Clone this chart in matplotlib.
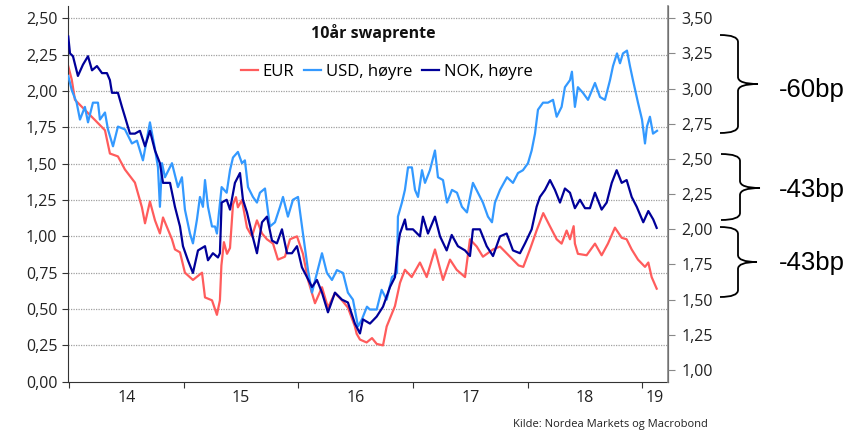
import matplotlib
matplotlib.use("Agg")
import matplotlib.pyplot as plt
from matplotlib.path import Path
from matplotlib.patches import PathPatch
from matplotlib.ticker import FuncFormatter, FixedLocator, NullFormatter

plt.rcParams['font.family'] = ['Open Sans', 'DejaVu Sans']

# 10y swap rates, time as years after start of 2014
eur_t = [-0.006, 0.024, 0.052, 0.139, 0.227, 0.314, 0.357, 0.427, 0.488, 0.575,
         0.636, 0.663, 0.706, 0.750, 0.793, 0.820, 0.898, 0.924, 0.968, 1.011,
         1.081, 1.160, 1.186, 1.247, 1.290, 1.316, 1.329, 1.351, 1.378, 1.404,
         1.430, 1.456, 1.473, 1.508, 1.552, 1.595, 1.639, 1.683, 1.726, 1.779,
         1.822, 1.883, 1.927, 1.988, 2.040, 2.084, 2.145, 2.206, 2.258, 2.319,
         2.380, 2.432, 2.493, 2.508, 2.537, 2.595, 2.642, 2.683, 2.738, 2.770,
         2.842, 2.886, 2.929, 2.988, 3.060, 3.119, 3.191, 3.261, 3.322, 3.380,
         3.453, 3.496, 3.555, 3.609, 3.697, 3.758, 3.845, 3.920, 3.961, 4.019,
         4.077, 4.135, 4.193, 4.252, 4.295, 4.339, 4.368, 4.400, 4.411, 4.437,
         4.513, 4.586, 4.644, 4.699, 4.760, 4.819, 4.862, 4.906, 4.961, 5.022,
         5.051, 5.080, 5.124]
eur = [2.17, 2.08, 1.94, 1.87, 1.80, 1.73, 1.57, 1.55, 1.46, 1.37,
       1.20, 1.09, 1.24, 1.11, 1.02, 1.13, 0.98, 0.91, 0.89, 0.75,
       0.70, 0.75, 0.58, 0.56, 0.46, 0.56, 0.80, 0.96, 0.88, 0.92,
       1.22, 1.27, 1.20, 1.25, 1.06, 1.00, 1.11, 1.02, 0.98, 0.95,
       0.84, 0.86, 0.98, 1.00, 0.88, 0.70, 0.54, 0.65, 0.51, 0.61,
       0.56, 0.51, 0.38, 0.33, 0.29, 0.27, 0.30, 0.26, 0.25, 0.38,
       0.52, 0.68, 0.77, 0.72, 0.82, 0.72, 0.91, 0.70, 0.84, 0.77,
       0.72, 0.98, 0.93, 0.86, 0.91, 0.93, 0.86, 0.80, 0.79, 0.91,
       1.04, 1.16, 1.07, 0.98, 0.95, 1.04, 0.98, 1.07, 0.95, 0.88,
       0.87, 0.95, 0.87, 0.95, 1.06, 0.99, 0.98, 0.91, 0.84, 0.79,
       0.82, 0.72, 0.64]

usd_t = [-0.006, 0.024, 0.067, 0.096, 0.139, 0.166, 0.209, 0.253, 0.270, 0.314,
         0.340, 0.384, 0.427, 0.488, 0.549, 0.593, 0.645, 0.706, 0.750, 0.776,
         0.793, 0.811, 0.837, 0.898, 0.950, 0.985, 1.011, 1.055, 1.081, 1.116,
         1.142, 1.168, 1.186, 1.212, 1.247, 1.273, 1.290, 1.308, 1.331, 1.375,
         1.404, 1.430, 1.473, 1.508, 1.534, 1.561, 1.604, 1.639, 1.665, 1.709,
         1.752, 1.796, 1.840, 1.866, 1.909, 1.953, 1.997, 2.040, 2.084, 2.119,
         2.162, 2.206, 2.249, 2.293, 2.336, 2.389, 2.432, 2.476, 2.520, 2.554,
         2.598, 2.624, 2.683, 2.726, 2.770, 2.816, 2.860, 2.868, 2.903, 2.929,
         2.956, 2.990, 3.017, 3.043, 3.078, 3.104, 3.147, 3.191, 3.217, 3.261,
         3.296, 3.339, 3.383, 3.426, 3.470, 3.522, 3.566, 3.609, 3.653, 3.688,
         3.714, 3.758, 3.819, 3.871, 3.915, 3.958, 4.002, 4.034, 4.063, 4.089,
         4.133, 4.176, 4.220, 4.252, 4.295, 4.324, 4.368, 4.385, 4.411, 4.437,
         4.481, 4.525, 4.586, 4.630, 4.673, 4.717, 4.743, 4.778, 4.804, 4.830,
         4.865, 4.891, 4.917, 4.961, 4.996, 5.022, 5.039, 5.065, 5.092, 5.127]
usd = [3.09, 2.99, 2.90, 2.78, 2.87, 2.76, 2.90, 2.90, 2.78, 2.83,
       2.71, 2.59, 2.73, 2.71, 2.61, 2.63, 2.49, 2.76, 2.57, 2.44,
       2.16, 2.47, 2.37, 2.47, 2.30, 2.37, 2.14, 1.97, 1.90, 2.07,
       2.23, 2.16, 2.35, 2.16, 2.02, 2.02, 1.97, 2.12, 2.30, 2.26,
       2.42, 2.51, 2.55, 2.47, 2.49, 2.30, 2.23, 2.19, 2.26, 2.29,
       2.02, 2.05, 2.16, 2.23, 2.09, 2.21, 2.23, 1.97, 1.71, 1.55,
       1.69, 1.83, 1.69, 1.64, 1.71, 1.69, 1.55, 1.50, 1.31, 1.36,
       1.45, 1.43, 1.43, 1.57, 1.50, 1.66, 1.69, 2.09, 2.19, 2.28,
       2.44, 2.44, 2.28, 2.23, 2.42, 2.33, 2.42, 2.56, 2.37, 2.35,
       2.19, 2.28, 2.26, 2.16, 2.12, 2.33, 2.26, 2.19, 2.09, 2.05,
       2.19, 2.28, 2.37, 2.33, 2.40, 2.42, 2.47, 2.56, 2.68, 2.85,
       2.90, 2.90, 2.92, 2.80, 2.87, 3.01, 3.06, 3.12, 2.87, 3.01,
       2.97, 2.92, 3.04, 2.94, 2.92, 3.06, 3.16, 3.25, 3.18, 3.25,
       3.27, 3.16, 3.06, 2.90, 2.78, 2.61, 2.73, 2.80, 2.68, 2.70]

nok_t = [-0.006, 0.009, 0.035, 0.078, 0.122, 0.166, 0.201, 0.244, 0.288, 0.331,
         0.357, 0.375, 0.427, 0.462, 0.488, 0.532, 0.575, 0.619, 0.663, 0.706,
         0.750, 0.793, 0.820, 0.881, 0.924, 0.968, 0.994, 1.037, 1.081, 1.125,
         1.186, 1.212, 1.255, 1.299, 1.316, 1.331, 1.375, 1.404, 1.447, 1.491,
         1.517, 1.552, 1.595, 1.639, 1.683, 1.726, 1.770, 1.813, 1.857, 1.901,
         1.944, 1.988, 2.031, 2.075, 2.119, 2.162, 2.206, 2.258, 2.319, 2.380,
         2.432, 2.493, 2.537, 2.563, 2.624, 2.683, 2.738, 2.799, 2.842, 2.868,
         2.886, 2.929, 2.944, 2.999, 3.060, 3.086, 3.130, 3.191, 3.235, 3.293,
         3.337, 3.391, 3.453, 3.496, 3.522, 3.583, 3.642, 3.697, 3.758, 3.816,
         3.871, 3.932, 3.976, 4.034, 4.077, 4.106, 4.150, 4.194, 4.237, 4.281,
         4.324, 4.368, 4.411, 4.455, 4.499, 4.542, 4.586, 4.644, 4.688, 4.732,
         4.775, 4.819, 4.862, 4.906, 4.950, 5.007, 5.051, 5.094, 5.124]
nok = [3.37, 3.25, 3.23, 3.09, 3.17, 3.23, 3.13, 3.16, 3.11, 3.11,
       3.06, 2.97, 2.97, 2.87, 2.80, 2.68, 2.68, 2.70, 2.59, 2.70,
       2.56, 2.47, 2.33, 2.33, 2.16, 2.02, 1.88, 1.78, 1.69, 1.85,
       1.88, 1.78, 1.83, 1.80, 1.83, 2.19, 2.21, 2.14, 2.33, 2.40,
       2.21, 2.12, 1.97, 1.83, 2.05, 2.09, 1.92, 1.90, 2.00, 1.83,
       1.83, 1.88, 1.73, 1.66, 1.59, 1.64, 1.55, 1.41, 1.55, 1.50,
       1.48, 1.33, 1.26, 1.36, 1.33, 1.38, 1.45, 1.59, 1.66, 1.88,
       1.97, 2.07, 2.00, 2.00, 1.95, 2.09, 1.97, 2.09, 1.95, 1.85,
       1.96, 1.88, 1.85, 1.81, 2.00, 2.00, 1.88, 1.81, 1.95, 1.97,
       1.85, 1.83, 1.90, 2.00, 2.16, 2.23, 2.28, 2.35, 2.28, 2.19,
       2.29, 2.26, 2.15, 2.21, 2.15, 2.15, 2.26, 2.14, 2.19, 2.33,
       2.42, 2.33, 2.35, 2.23, 2.16, 2.05, 2.13, 2.07, 2.01]

year_labels = ['14', '15', '16', '17', '18', '19']

red = '#ff5c5c'
lblue = '#3399ff'
navy = '#000099'

W, H = 863, 433
fig = plt.figure(figsize=(W / 100, H / 100), dpi=100)
ax = fig.add_axes([67.7 / W, 51.3 / H, 600 / W, 375.7 / H])
ax2 = ax.twinx()

l1, = ax.plot(eur_t, eur, color=red, lw=1.6, label='EUR')
l2, = ax2.plot(usd_t, usd, color=lblue, lw=1.6, label='USD, høyre')
l3, = ax2.plot(nok_t, nok, color=navy, lw=1.6, label='NOK, høyre')

ax.set_xlim(-0.011, 5.22)
ax.set_ylim(0, 2.585)
ax2.set_ylim(0.917, 3.587)

comma = FuncFormatter(lambda v, p: f'{v:.2f}'.replace('.', ','))
ax.set_yticks([i * 0.25 for i in range(11)])
ax2.set_yticks([1 + i * 0.25 for i in range(11)])
ax.yaxis.set_major_formatter(comma)
ax2.yaxis.set_major_formatter(comma)

ax.xaxis.set_major_locator(FixedLocator([0, 1, 2, 3, 4, 5]))
ax.xaxis.set_major_formatter(NullFormatter())
ax.xaxis.set_minor_locator(FixedLocator([0.5, 1.5, 2.5, 3.5, 4.5, 5.11]))
ax.xaxis.set_minor_formatter(FuncFormatter(lambda v, p: year_labels[p]))
ax.tick_params(axis='x', which='major', length=4, color='#333333')
ax.tick_params(axis='x', which='minor', length=0, pad=6, labelsize=11.5, labelcolor='#222222')
ax.tick_params(axis='y', length=4, labelsize=11.5, labelcolor='#222222', color='#333333')
ax2.tick_params(axis='y', length=5, labelsize=11.5, labelcolor='#222222', color='#888888', pad=5)

for v in [i * 0.25 for i in range(1, 11)]:
    ax.axhline(v, color='#a0a0a0', lw=0.9, ls=(0, (1, 1)), zorder=0)

for a in (ax, ax2):
    a.spines['top'].set_visible(False)
ax.spines['left'].set_color('#333333')
ax.spines['bottom'].set_color('#333333')
ax2.spines['left'].set_visible(False)
ax2.spines['bottom'].set_visible(False)
ax2.spines['right'].set_color('#888888')
ax2.spines['right'].set_linewidth(1.2)

fig.text(373 / W, 1 - 33 / H, '10år swaprente', ha='center', va='center',
         fontsize=11.5, fontweight='bold', color='#111111')
fig.legend(handles=[l1, l2, l3], loc='center', bbox_to_anchor=(387 / W, 1 - 72 / H),
           ncol=3, frameon=False, fontsize=12, handlelength=1.0, handletextpad=0.3,
           columnspacing=0.6)
fig.text(708 / W, 1 - 425 / H, 'Kilde: Nordea Markets og Macrobond', ha='right', va='center',
         fontsize=8, color='#222222')


def brace(x0, xm, xt, ytop, ymid, ybot, r=7):
    pts = [(x0, ytop), (xm, ytop), (xm, ytop + r),
           (xm, ymid - r), (xm, ymid), (xt, ymid),
           (xm, ymid), (xm, ymid + r),
           (xm, ybot - r), (xm, ybot), (x0, ybot)]
    codes = [Path.MOVETO, Path.CURVE3, Path.CURVE3,
             Path.LINETO, Path.CURVE3, Path.CURVE3,
             Path.CURVE3, Path.CURVE3,
             Path.LINETO, Path.CURVE3, Path.CURVE3]
    verts = [(x / W, 1 - y / H) for x, y in pts]
    fig.add_artist(PathPatch(Path(verts, codes), fill=False, lw=1.3, color='black',
                             transform=fig.transFigure))


brace(720, 738, 758, 35, 84, 133)
brace(721, 740, 760, 154, 188, 220)
brace(720, 738, 757, 227, 262, 297)

for y, s in [(90, '-60bp'), (190, '-43bp'), (263, '-43bp')]:
    fig.text(779 / W, 1 - y / H, s, ha='left', va='center', fontsize=18.5,
             family='Liberation Sans', color='black')

fig.savefig('out.png', dpi=100)
